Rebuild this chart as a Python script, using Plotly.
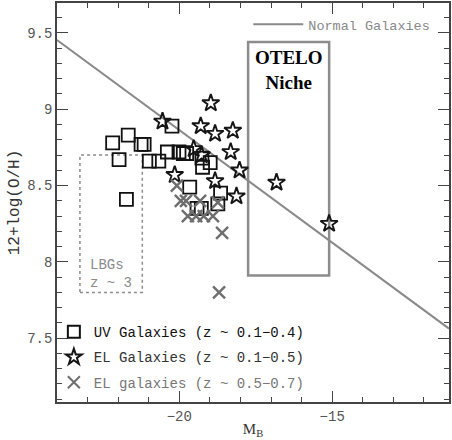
import plotly.graph_objects as go

# ---- data ----
UV_MB = [-22.18, -21.67, -21.97, -21.25, -21.15, -21.73, -20.98, -20.67, -20.39, -20.24,
         -20.01, -19.87, -19.76, -19.66, -19.26, -19.24, -18.99, -18.65, -18.74, -19.42, -19.28]
UV_OH = [8.78, 8.83, 8.67, 8.77, 8.77, 8.41, 8.66, 8.66, 8.72, 8.89,
         8.72, 8.71, 8.71, 8.49, 8.68, 8.62, 8.65, 8.45, 8.38, 8.35, 8.35]

ELL_MB = [-20.55, -19.53, -19.27, -20.15, -19.30, -18.97, -18.83, -18.25, -18.32, -18.03,
          -18.83, -18.13, -16.82, -15.10]
ELL_OH = [8.92, 8.74, 8.70, 8.57, 8.89, 9.04, 8.84, 8.86, 8.72, 8.60,
          8.53, 8.43, 8.52, 8.25]

ELH_MB = [-20.08, -19.95, -19.78, -19.32, -18.74, -19.72, -19.45, -19.20, -18.90, -18.60, -18.70]
ELH_OH = [8.50, 8.40, 8.40, 8.40, 8.39, 8.30, 8.30, 8.30, 8.30, 8.19, 7.80]

NORMAL_MB = [-24.0, -11.18]
NORMAL_OH = [9.454, 7.563]

OTELO_BOX_MB = [-17.75, -15.10]
OTELO_BOX_OH = [7.91, 9.44]
LBG_BOX_MB = [-23.25, -21.21]
LBG_BOX_OH = [7.80, 8.70]

X_RANGE = [-24.0, -11.18]
Y_RANGE = [7.082, 9.696]

MONO = "Liberation Mono"

fig = go.Figure()

fig.add_trace(go.Scatter(
    x=NORMAL_MB, y=NORMAL_OH, mode="lines",
    line=dict(color="#8a8a8a", width=2),
    name="Normal Galaxies", legend="legend2"))

fig.add_trace(go.Scatter(
    x=UV_MB, y=UV_OH, mode="markers",
    marker=dict(symbol="square-open", size=13, color="#111111", line=dict(width=1.8)),
    name="UV Galaxies (z ~ 0.1\u22120.4)", legendgroup="a"))

fig.add_trace(go.Scatter(
    x=ELL_MB, y=ELL_OH, mode="markers",
    marker=dict(symbol="star-open", size=13, color="#151515", line=dict(width=1.9)),
    name="<span style='color:#333333'>EL Galaxies (z ~ 0.1\u22120.5)</span>", legendgroup="b"))

fig.add_trace(go.Scatter(
    x=ELH_MB, y=ELH_OH, mode="markers",
    marker=dict(symbol="x-thin-open", size=12, color="#6e6e6e", line=dict(width=2.4, color="#6e6e6e")),
    name="<span style='color:#777777'>EL galaxies (z ~ 0.5\u22120.7)</span>", legendgroup="c"))

# boxes
fig.add_shape(type="rect", xref="x", yref="y",
              x0=OTELO_BOX_MB[0], x1=OTELO_BOX_MB[1], y0=OTELO_BOX_OH[0], y1=OTELO_BOX_OH[1],
              line=dict(color="#8c8c8c", width=2.5), layer="below")
fig.add_shape(type="rect", xref="x", yref="y",
              x0=LBG_BOX_MB[0], x1=LBG_BOX_MB[1], y0=LBG_BOX_OH[0], y1=LBG_BOX_OH[1],
              line=dict(color="#8c8c8c", width=1.5, dash="dot"), layer="below")

fig.add_annotation(x=-16.41, y=9.255, xref="x", yref="y", showarrow=False,
                   text="<b>OTELO<br>Niche</b>",
                   font=dict(family="Liberation Serif", size=19, color="#000000"))
fig.add_annotation(x=-23.0, y=7.923, xref="x", yref="y", showarrow=False,
                   xanchor="left", align="left",
                   text="LBGs<br>z ~ 3",
                   font=dict(family=MONO, size=14, color="#8a8a8a"))

axis_common = dict(
    showline=True, linecolor="#444444", linewidth=1.5, mirror="ticks",
    ticks="inside", ticklen=11, tickwidth=1.2, tickcolor="#444444",
    showgrid=False, zeroline=False,
    tickfont=dict(family=MONO, size=14, color="#555555"),
)

fig.update_xaxes(range=X_RANGE, dtick=5, tick0=-20,
                 minor=dict(dtick=1, ticklen=5, tickwidth=1.2, tickcolor="#444444", ticks="inside"),
                 title=dict(text="M<sub>B</sub>", font=dict(family="Liberation Serif", size=15, color="#333333"),
                            standoff=0),
                 **axis_common)
fig.update_yaxes(range=Y_RANGE, dtick=0.5, tick0=7.5,
                 minor=dict(dtick=0.1, ticklen=5, tickwidth=1.2, tickcolor="#444444", ticks="inside"),
                 title=dict(text="12+log(O/H)", font=dict(family=MONO, size=16, color="#333333"),
                            standoff=4),
                 **axis_common)

fig.update_layout(
    width=452, height=440, autosize=False,
    margin=dict(l=57, r=1, t=2, b=38),
    paper_bgcolor="white", plot_bgcolor="white",
    showlegend=True,
    legend=dict(x=-0.008, y=0.215, xanchor="left", yanchor="top",
                bgcolor="rgba(0,0,0,0)", borderwidth=0,
                font=dict(family=MONO, size=14, color="#111111"),
                tracegroupgap=4, itemwidth=30, itemsizing="constant"),
    legend2=dict(x=0.965, y=0.985, xanchor="right", yanchor="top",
                 bgcolor="rgba(0,0,0,0)", borderwidth=0,
                 font=dict(family=MONO, size=13.5, color="#888888"),
                 itemwidth=50),
)

fig.write_html("out.html", config={"displayModeBar": False},
               post_script="document.body.style.margin='0';document.body.style.overflow='hidden';")
